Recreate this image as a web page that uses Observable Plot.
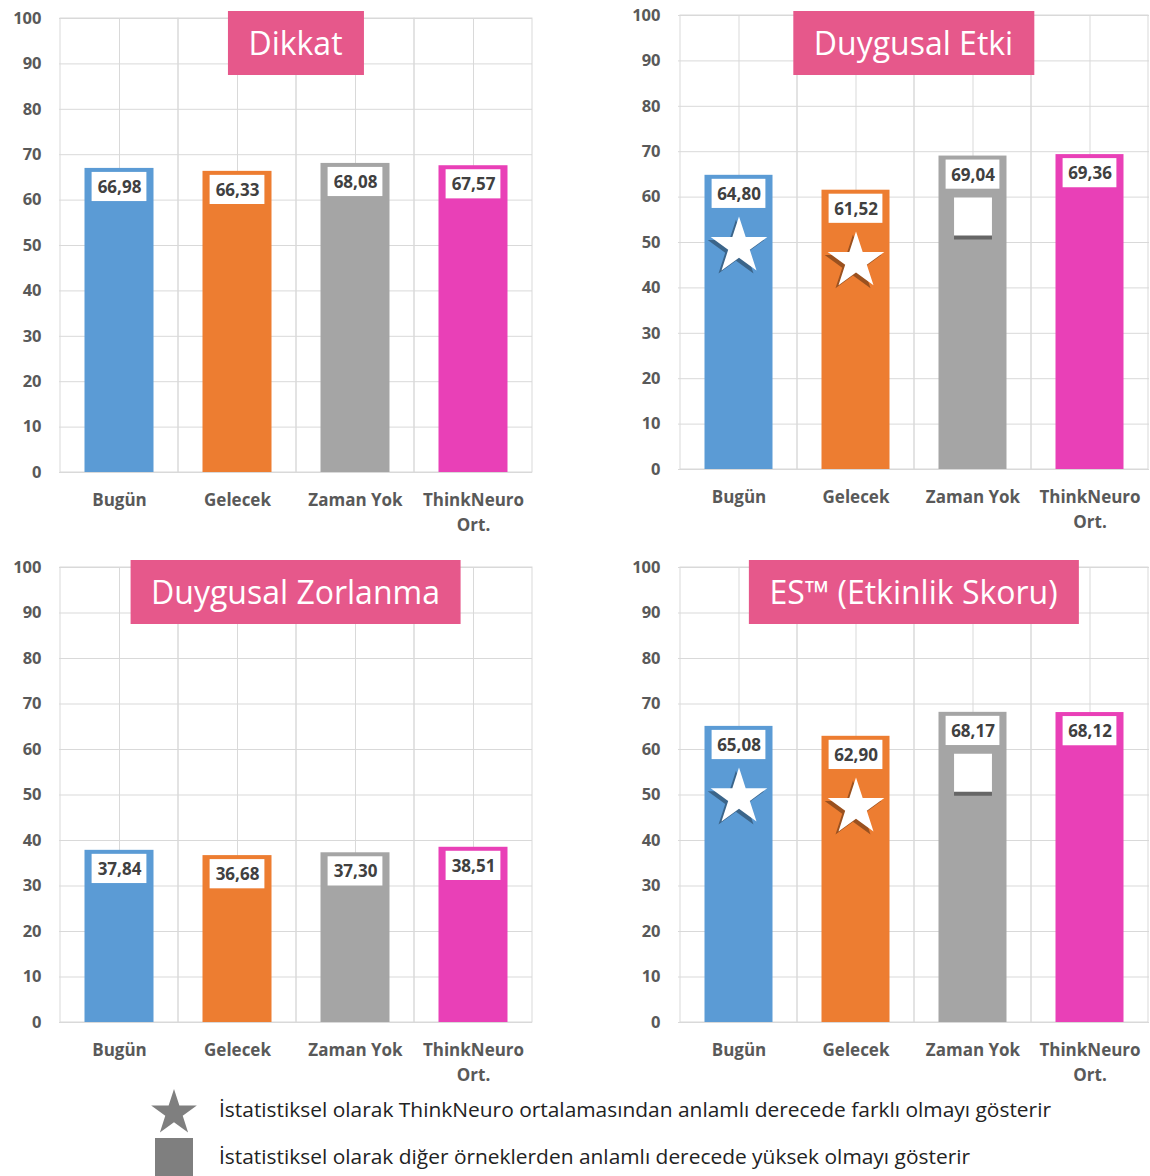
<!DOCTYPE html>
<html><head><meta charset="utf-8">
<script src="https://cdn.jsdelivr.net/npm/d3@7"></script>
<script src="https://cdn.jsdelivr.net/npm/@observablehq/plot@0.6"></script>
<style>
body{margin:0;background:#fff;}
#wrap{position:relative;width:1150px;height:1176px;overflow:hidden;font-family:"Open Sans",sans-serif;}
.panel{position:absolute;}
.title{position:absolute;background:#E6588B;color:#fff;font-size:32px;height:64px;line-height:64px;padding:0 21px;white-space:nowrap;transform:translateX(-50%);font-family:"Open Sans",sans-serif;}
</style></head><body><div id="wrap"></div>
<script>
// ---- data ----
const categories = ["Bugün", "Gelecek", "Zaman Yok", "ThinkNeuro\nOrt."];
const barColors = ["#5B9BD5", "#ED7D31", "#A5A5A5", "#E940B7"];
const yTicks = [0, 10, 20, 30, 40, 50, 60, 70, 80, 90, 100];
const titles = ["Dikkat", "Duygusal Etki", "Duygusal Zorlanma", "ES™ (Etkinlik Skoru)"];
const dikkat = [66.98, 66.33, 68.08, 67.57];
const duygusalEtki = [64.80, 61.52, 69.04, 69.36];
const duygusalZorlanma = [37.84, 36.68, 37.30, 38.51];
const etkinlikSkoru = [65.08, 62.90, 68.17, 68.12];
const starFlags = [[], ["Bugün", "Gelecek"], [], ["Bugün", "Gelecek"]];
const squareFlags = [[], ["Zaman Yok"], [], ["Zaman Yok"]];
const legendTexts = [
  "İstatistiksel olarak ThinkNeuro ortalamasından anlamlı derecede farklı olmayı gösterir",
  "İstatistiksel olarak diğer örneklerden anlamlı derecede yüksek olmayı gösterir"
];

// ---- layout ----
const layouts = [
  {left: 0,   top: 0,   w: 575, mL: 59,  mR: 43, mT: 18, plotBottom: 472, titleTop: 11},
  {left: 575, top: 0,   w: 575, mL: 103, mR: 1,  mT: 15, plotBottom: 469, titleTop: 11},
  {left: 0,   top: 549, w: 575, mL: 59,  mR: 43, mT: 18, plotBottom: 473, titleTop: 11},
  {left: 575, top: 549, w: 575, mL: 103, mR: 1,  mT: 18, plotBottom: 473, titleTop: 11}
];
const series = [dikkat, duygusalEtki, duygusalZorlanma, etkinlikSkoru];
const grid = "#D9D9D9";
const fmt = v => v.toFixed(2).replace(".", ",");
const wrap = document.getElementById("wrap");

series.forEach((values, k) => {
  const L = layouts[k];
  const mB = 75;
  const data = categories.map((c, i) => ({c, v: values[i]}));
  const stars = data.filter(d => starFlags[k].includes(d.c));
  const squares = data.filter(d => squareFlags[k].includes(d.c));
  const chart = Plot.plot({
    width: L.w,
    height: L.plotBottom + mB,
    marginLeft: L.mL, marginRight: L.mR, marginTop: L.mT, marginBottom: mB,
    x: {domain: categories, padding: 0, axis: null},
    y: {domain: [0, 100], axis: null},
    color: {domain: categories, range: barColors},
    style: {fontFamily: "'Open Sans', sans-serif", overflow: "visible", background: "transparent"},
    marks: [
      Plot.ruleY(yTicks, {stroke: grid, strokeWidth: 1}),
      Plot.barY(categories, {x: d => d, y1: 0, y2: 100, fill: "none", stroke: grid, strokeWidth: 1}),
      Plot.ruleX(categories, {x: d => d, y1: 0, y2: 100, stroke: grid, strokeWidth: 1}),
      Plot.barY(data, {x: "c", y: "v", fill: "c", insetLeft: 24.5, insetRight: 24.5}),
      Plot.barY(data, {x: "c", y1: d => d.v, y2: d => d.v - 7.3, insetTop: 4, insetLeft: 31.6, insetRight: 31.6, fill: "white"}),
      Plot.text(data, {x: "c", y: "v", dy: 19, text: d => fmt(d.v), fontSize: 17, fontWeight: "bold", fill: "#404040"}),
      Plot.dot(stars, {x: "c", y: "v", dx: -3, dy: 74, symbol: "star", r: 17.8, fill: "#000", fillOpacity: 0.35}),
      Plot.dot(stars, {x: "c", y: "v", dy: 71, symbol: "star", r: 17.8, fill: "white"}),
      Plot.dot(squares, {x: "c", y: "v", dy: 64.5, symbol: "square", r: 21.4, fill: "#666"}),
      Plot.dot(squares, {x: "c", y: "v", dy: 60.5, symbol: "square", r: 21.4, fill: "white"}),
      Plot.axisY({ticks: yTicks, tickSize: 0, tickPadding: 18, fontSize: 16.5, fontWeight: "bold", fill: "#595959", label: null}),
      Plot.text(categories, {x: d => d, y: 0, dy: 16, text: d => d, lineAnchor: "top", lineHeight: 1.45, fontSize: 17, fontWeight: "bold", fill: "#595959"})
    ]
  });
  chart.classList.add("panel");
  chart.style.left = L.left + "px";
  chart.style.top = L.top + "px";
  wrap.appendChild(chart);

  const t = document.createElement("div");
  t.className = "title";
  t.textContent = titles[k];
  t.style.left = (L.left + L.mL + (L.w - L.mL - L.mR) / 2) + "px";
  t.style.top = (L.top + L.titleTop) + "px";
  wrap.appendChild(t);
});

// ---- legend ----
const svg = d3.select(wrap).append("svg")
  .attr("width", 1150).attr("height", 96)
  .style("position", "absolute").style("left", "0px").style("top", "1080px")
  .style("font-family", "'Open Sans', sans-serif");
svg.append("path")
  .attr("d", d3.symbol(d3.symbolStar, 24 * 24 / 0.8908)())
  .attr("transform", "translate(174,33)")
  .attr("fill", "#7F7F7F");
svg.append("rect").attr("x", 155).attr("y", 58).attr("width", 38).attr("height", 40).attr("fill", "#7F7F7F");
const legendWidths = [832, 751];
svg.selectAll("text.leg").data(legendTexts).join("text")
  .attr("class", "leg")
  .attr("x", 219)
  .attr("y", (d, i) => i === 0 ? 37 : 84)
  .attr("font-size", 20.5)
  .attr("fill", "#222")
  .attr("textLength", (d, i) => legendWidths[i])
  .attr("lengthAdjust", "spacingAndGlyphs")
  .text(d => d);
</script></body></html>
